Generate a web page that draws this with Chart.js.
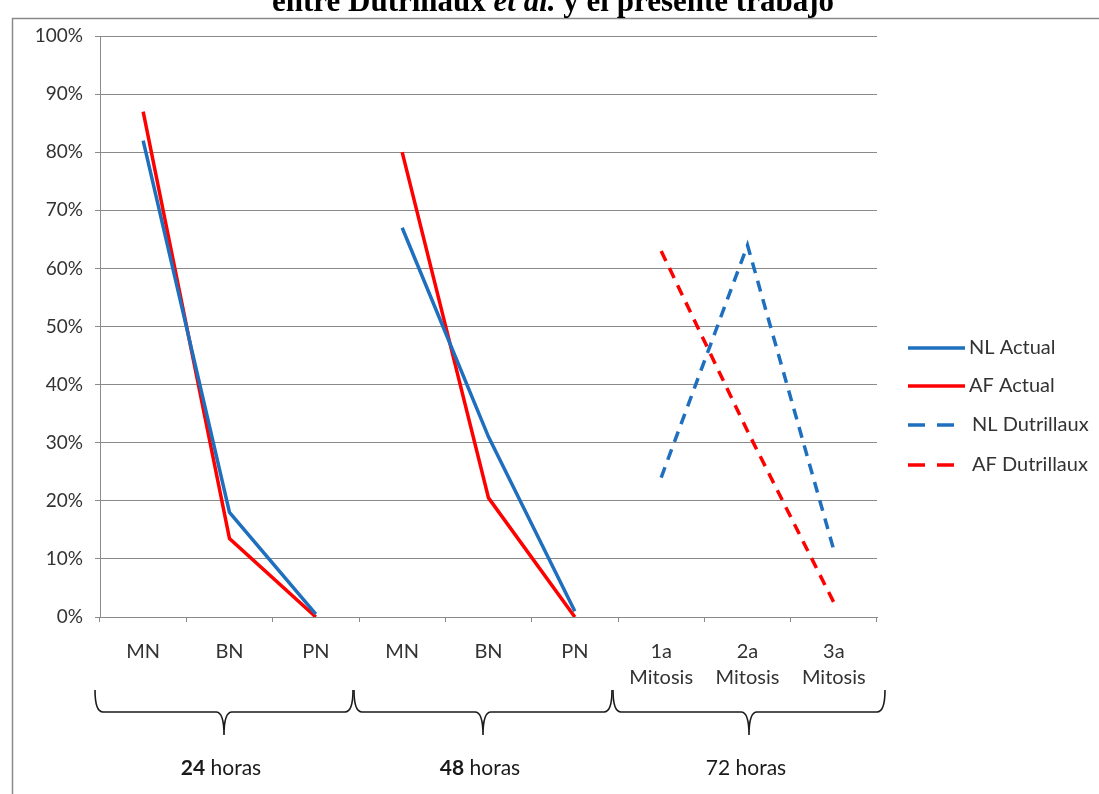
<!DOCTYPE html>
<html>
<head>
<meta charset="utf-8">
<script src="https://cdn.jsdelivr.net/npm/chart.js@4.4.0/dist/chart.umd.min.js"></script>
<style>
  body { margin: 0; background: #fff; overflow: hidden; }
  #wrap { position: relative; width: 1099px; height: 794px; }
  #title {
    position: absolute; left: 0; width: 1106px; top: -17px; line-height: 31px;
    text-align: center; font: bold 31px "Liberation Serif", "Times New Roman", serif;
    color: #000; white-space: nowrap;
  }
  canvas { position: absolute; left: 0; top: 0; }
</style>
</head>
<body>
<div id="wrap">
  <canvas id="chart" width="1099" height="794"></canvas>
  <div id="title">entre Dutrillaux <i>et al.</i> y el presente trabajo</div>
</div>
<script>
// Categories along the x axis (stages per culture time)
const categories = [["MN"], ["BN"], ["PN"], ["MN"], ["BN"], ["PN"], ["1a", "Mitosis"], ["2a", "Mitosis"], ["3a", "Mitosis"]];
const groups = [["24", " horas"], ["48", " horas"], ["72", " horas"]];
const yTicks = [0, 10, 20, 30, 40, 50, 60, 70, 80, 90, 100];

// Percentages per series
const nlActual = [82, 18, 0.5, 67, 31, 1, null, null, null];
const afActual = [87, 13.5, 0, 80, 20.5, 0, null, null, null];
const nlDutrillaux = [null, null, null, null, null, null, 24, 64, 11.5];
const afDutrillaux = [null, null, null, null, null, null, 63, 32, 2.5];

const BLUE = "#1f6fbf";
const RED = "#ff0000";
const FONT = "Lato";

// 24h and 48h are separate runs: hide the segment joining PN to the next MN
const breakAfterPN = {
  borderColor: ctx => ctx.p0DataIndex === 2 ? "rgba(0,0,0,0)" : undefined
};

function lineSet(label, data, color, dashed) {
  return {
    label: label,
    data: data,
    borderColor: color,
    backgroundColor: color,
    borderWidth: 3.5,
    borderDash: dashed ? [11, 8] : [],
    pointRadius: 0,
    tension: 0,
    fill: false,
    spanGaps: false,
    segment: breakAfterPN
  };
}

// frame, bracket groups under the axis and the legend on the right
const decorations = {
  id: "decorations",
  beforeDraw(chart) {
    const ctx = chart.ctx;
    ctx.save();
    ctx.fillStyle = "#fff";
    ctx.fillRect(0, 0, chart.width, chart.height);
    ctx.strokeStyle = "#8a8a8a";
    ctx.lineWidth = 1.5;
    ctx.strokeRect(12.5, 18.5, chart.width + 20, chart.height + 20);
    ctx.restore();
  },
  afterDraw(chart) {
    const ctx = chart.ctx;
    const x = chart.scales.x;
    const step = x.getPixelForValue(1) - x.getPixelForValue(0);
    const top = 690, mid = 712, tip = 735;

    ctx.save();
    ctx.strokeStyle = "#1a1a1a";
    ctx.lineWidth = 1.6;
    groups.forEach((g, i) => {
      const l = x.getPixelForValue(i * 3) - step / 2 - 5;
      const r = x.getPixelForValue(i * 3 + 2) + step / 2 + (i === 2 ? 8 : -6);
      const c = (l + r) / 2;
      ctx.beginPath();
      ctx.moveTo(l, top);
      ctx.quadraticCurveTo(l, mid, l + 8, mid);
      ctx.lineTo(c - 8, mid);
      ctx.quadraticCurveTo(c, mid, c, tip);
      ctx.quadraticCurveTo(c, mid, c + 8, mid);
      ctx.lineTo(r - 8, mid);
      ctx.quadraticCurveTo(r, mid, r, top);
      ctx.stroke();

      // group caption, number part in bold for the first two
      ctx.fillStyle = "#1a1a1a";
      ctx.textBaseline = "middle";
      const boldFont = (i < 2 ? "bold " : "") + "21px " + FONT;
      const normFont = "21px " + FONT;
      ctx.font = boldFont;
      const w1 = ctx.measureText(g[0]).width;
      ctx.font = normFont;
      const w2 = ctx.measureText(g[1]).width;
      const sx = c - (w1 + w2) / 2 - 3;
      ctx.font = boldFont;
      ctx.textAlign = "left";
      ctx.fillText(g[0], sx, 768);
      ctx.font = normFont;
      ctx.fillText(g[1], sx + w1, 768);
    });

    // legend
    const ys = [348, 386, 425, 465];
    ctx.font = "20px " + FONT;
    ctx.textAlign = "left";
    ctx.textBaseline = "middle";
    chart.data.datasets.forEach((ds, i) => {
      const y = ys[i];
      const dashed = ds.borderDash.length > 0;
      ctx.strokeStyle = ds.borderColor;
      ctx.lineWidth = 3.5;
      ctx.setLineDash(dashed ? [17, 12] : []);
      ctx.beginPath();
      ctx.moveTo(908, y);
      ctx.lineTo(dashed ? 962 : 965, y);
      ctx.stroke();
      ctx.setLineDash([]);
      ctx.fillStyle = "#333";
      ctx.fillText(ds.label, dashed ? 972 : 969, y);
    });
    ctx.restore();
  }
};

function renderChart() {
  const ctx = document.getElementById("chart").getContext("2d");
  new Chart(ctx, {
    type: "line",
    data: {
      labels: categories,
      datasets: [
        lineSet("NL Actual", nlActual, BLUE, false),
        lineSet("AF Actual", afActual, RED, false),
        lineSet("NL Dutrillaux", nlDutrillaux, BLUE, true),
        lineSet("AF Dutrillaux", afDutrillaux, RED, true)
      ]
    },
    options: {
      responsive: false,
      animation: false,
      layout: { padding: { left: 12, top: 36, right: 222, bottom: 97 } },
      plugins: {
        legend: { display: false },
        tooltip: { enabled: false }
      },
      scales: {
        x: {
          offset: true,
          grid: {
            offset: true,
            drawOnChartArea: false,
            drawTicks: true,
            tickLength: 5,
            color: "#8a8a8a"
          },
          border: { color: "#8a8a8a", width: 1 },
          ticks: {
            color: "#333",
            font: { family: FONT, size: 20, lineHeight: 1.3 },
            padding: 17,
            maxRotation: 0,
            autoSkip: false
          },
          afterFit(scale) { scale.height = 80; }
        },
        y: {
          min: 0,
          max: 100,
          afterBuildTicks(scale) { scale.ticks = yTicks.map(v => ({ value: v })); },
          grid: { color: "#8a8a8a", lineWidth: 1, tickLength: 5 },
          border: { color: "#8a8a8a", width: 1 },
          ticks: {
            color: "#333",
            font: { family: FONT, size: 19 },
            padding: 12,
            callback: v => v + "%"
          },
          afterFit(scale) { scale.width = 88; }
        }
      }
    },
    plugins: [decorations]
  });
}

document.addEventListener("DOMContentLoaded", renderChart);
</script>
</body>
</html>
